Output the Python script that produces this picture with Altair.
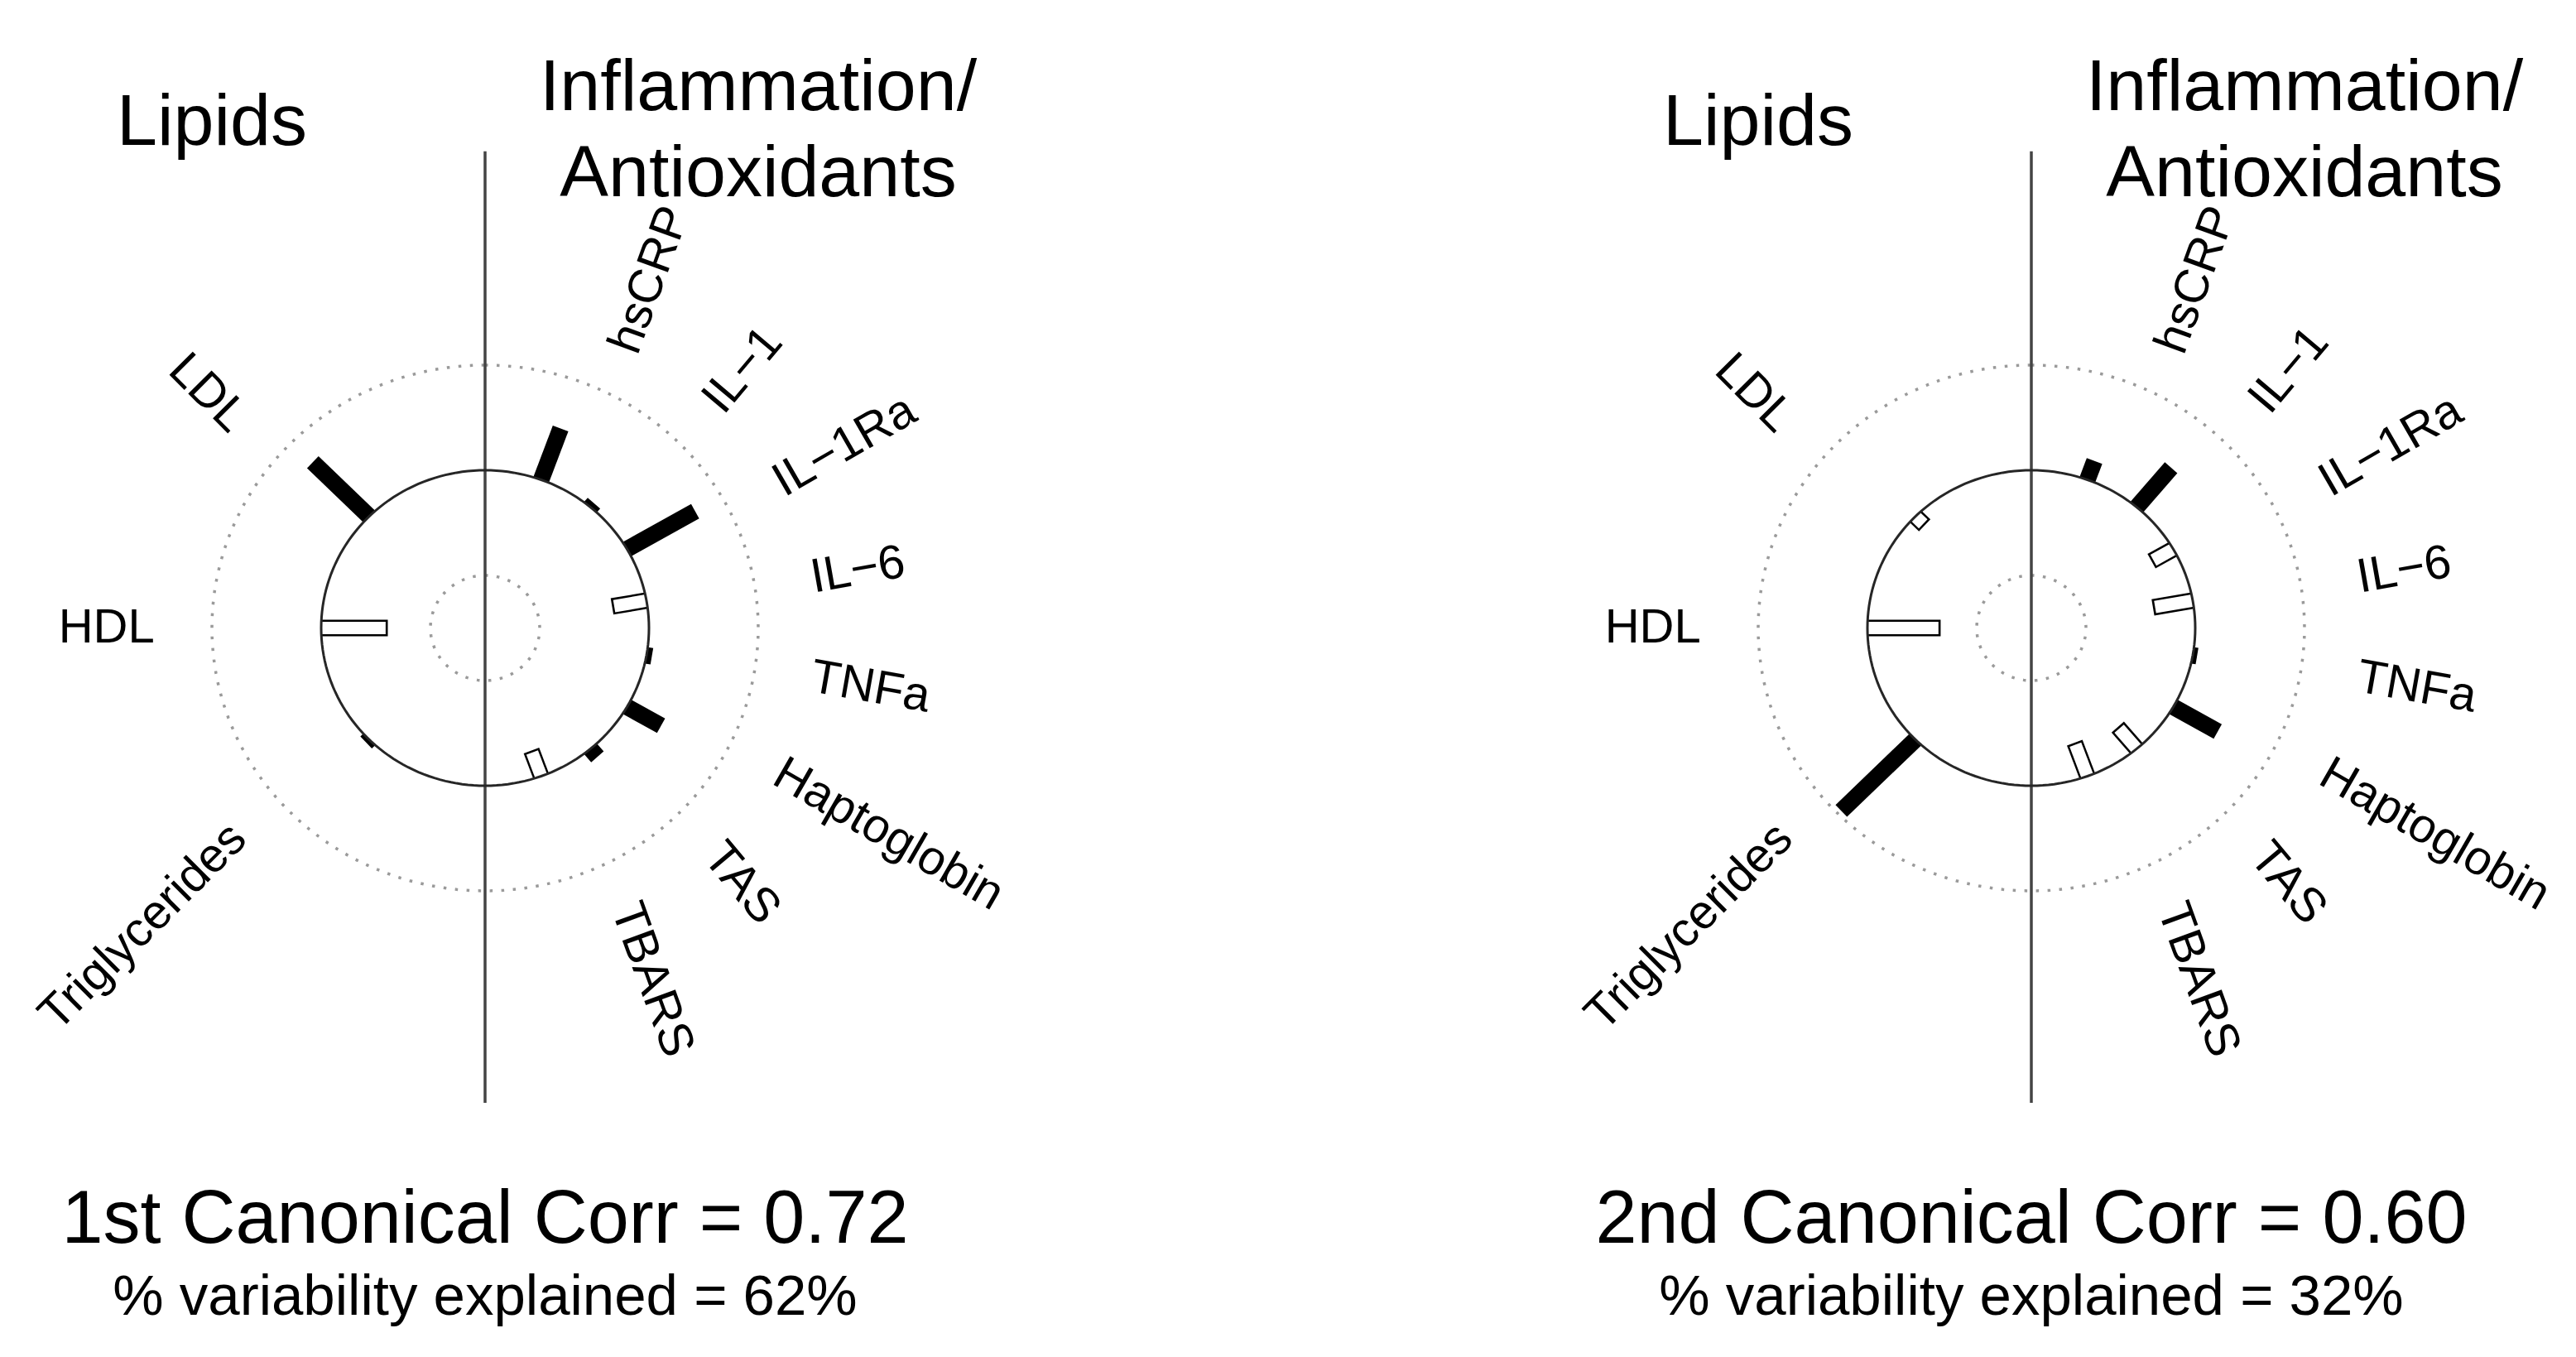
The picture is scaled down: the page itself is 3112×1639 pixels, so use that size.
import altair as alt
import pandas as pd

# ---------------- data ----------------
SET1 = ["LDL", "HDL", "Triglycerides"]
SET2 = ["hsCRP", "IL\u22121", "IL\u22121Ra", "IL\u22126", "TNFa", "Haptoglobin", "TAS", "TBARS"]

CV1_SET1 = [0.73, -0.61, 0.04]
CV1_SET2 = [0.52, 0.05, 0.72, -0.32, 0.05, 0.36, 0.10, -0.26]
CV2_SET1 = [-0.12, -0.67, 0.96]
CV2_SET2 = [0.19, 0.49, -0.23, -0.37, 0.04, 0.47, -0.27, -0.34]

GROUP_TITLES = ["Lipids", "Inflammation/", "Antioxidants"]
CORR_TITLES = ["1st Canonical Corr = 0.72", "2nd Canonical Corr = 0.60"]
VAR_TITLES = ["% variability explained = 62%", "% variability explained = 32%"]

# ---------------- style / layout ----------------
FONT = "Liberation Sans"
W, H = 1548, 1620
RX, RY = 330.0, 317.5          # pixels per unit
CY_OFF = 750.5                 # centre offset from top of panel
CX_OFF = [578.0, 898.0]        # centre offset from left of each panel
R0, SPAN = 0.6, 0.4            # helio circle radius and unit length
LAB_RX, LAB_RY = 1.21, 1.16    # label ellipse
LAB_SQUEEZE = 0.93             # label angular spread
CIRCLE_STEPS = pd.DataFrame({"t": list(range(0, 361, 2))})


def panel_table(v1, v2):
    rows = []
    n1, n2 = len(SET1), len(SET2)
    for k, (name, v) in enumerate(zip(SET1, v1), start=1):
        rows.append(dict(var=name, value=v, theta=360 - 180 * k / (n1 + 1), side="left"))
    for k, (name, v) in enumerate(zip(SET2, v2), start=1):
        rows.append(dict(var=name, value=v, theta=180 * k / (n2 + 1), side="right"))
    return pd.DataFrame(rows)


def make_panel(idx, v1, v2):
    xdom = [-CX_OFF[idx] / RX, (W - CX_OFF[idx]) / RX]
    ydom = [-(H - CY_OFF) / RY, CY_OFF / RY]

    def X(f):
        return alt.X(f, type="quantitative", scale=alt.Scale(domain=xdom, nice=False, zero=False), axis=None)

    def Y(f):
        return alt.Y(f, type="quantitative", scale=alt.Scale(domain=ydom, nice=False, zero=False), axis=None)

    df = panel_table(v1, v2)
    base = alt.Chart(df).transform_calculate(
        rad="datum.theta*PI/180",
        mid="datum.side=='right' ? 90 : 270",
    ).transform_calculate(
        x0=f"{R0}*sin(datum.rad)",
        y0=f"{R0}*cos(datum.rad)",
        r1=f"{R0}+{SPAN}*datum.value",
        lrad=f"(datum.mid + (datum.theta-datum.mid)*{LAB_SQUEEZE})*PI/180",
    ).transform_calculate(
        x1="datum.r1*sin(datum.rad)",
        y1="datum.r1*cos(datum.rad)",
        r1w="datum.r1+0.008",
        xl=f"{LAB_RX}*sin(datum.lrad)",
        yl=f"{LAB_RY}*cos(datum.lrad)",
        rot="((datum.side=='right' ? datum.theta-90 : datum.theta-270)+360)%360",
    ).transform_calculate(
        x1w="datum.r1w*sin(datum.rad)",
        y1w="datum.r1w*cos(datum.rad)",
    )

    def circle(r, dotted):
        c = alt.Chart(CIRCLE_STEPS).transform_calculate(
            cx=f"{r}*sin(datum.t*PI/180)", cy=f"{r}*cos(datum.t*PI/180)"
        )
        if dotted:
            m = c.mark_line(color="#9a9a9a", strokeWidth=3.5, strokeDash=[3.5, 10.5])
        else:
            m = c.mark_line(color="#262626", strokeWidth=3)
        return m.encode(x=X("cx"), y=Y("cy"), order=alt.Order("t:Q"))

    outer = circle(1.0, True)
    inner = circle(0.2, True)
    main = circle(R0, False)

    vline = alt.Chart(pd.DataFrame({"k": [0]})).transform_calculate(
        vx="0", vy0="-1.806", vy1="1.813"
    ).mark_rule(color="#444444", strokeWidth=3.5).encode(
        x=X("vx"), y=Y("vy0"), y2="vy1:Q"
    )

    bars = base.mark_rule(color="black", strokeWidth=20, strokeCap="butt").encode(
        x=X("x0"), y=Y("y0"), x2="x1:Q", y2="y1:Q"
    )
    hollow = base.transform_filter("datum.value < 0").mark_rule(
        color="white", strokeWidth=15, strokeCap="butt"
    ).encode(x=X("x0"), y=Y("y0"), x2="x1w:Q", y2="y1w:Q")

    lab_r = base.transform_filter("datum.side=='right'").mark_text(
        align="left", baseline="middle", font=FONT, fontSize=58, color="black"
    ).encode(x=X("xl"), y=Y("yl"), text="var:N", angle=alt.Angle("rot:Q", scale=None))
    lab_l = base.transform_filter("datum.side=='left'").mark_text(
        align="right", baseline="middle", font=FONT, fontSize=58, color="black"
    ).encode(x=X("xl"), y=Y("yl"), text="var:N", angle=alt.Angle("rot:Q", scale=None))

    def txt(s, xp, yp, size):
        return alt.Chart(pd.DataFrame({"s": [s]})).transform_calculate(
            tx=f"{xp}", ty=f"{yp}"
        ).mark_text(
            align="center", baseline="alphabetic", font=FONT, fontSize=size, color="black"
        ).encode(x=X("tx"), y=Y("ty"), text="s:N")

    titles = [
        txt(GROUP_TITLES[0], -1.0, 1.838, 88),
        txt(GROUP_TITLES[1], 1.0, 1.970, 88),
        txt(GROUP_TITLES[2], 1.0, 1.643, 88),
        txt(CORR_TITLES[idx], 0.0, -2.338, 90),
        txt(VAR_TITLES[idx], 0.0, -2.612, 69),
    ]

    return alt.layer(outer, inner, vline, bars, hollow, main, lab_r, lab_l, *titles).properties(
        width=W, height=H
    )


p1 = make_panel(0, CV1_SET1, CV1_SET2)
p2 = make_panel(1, CV2_SET1, CV2_SET2)

chart = alt.hconcat(p1, p2, spacing=0).properties(padding=0).configure_view(stroke=None)

chart.save("out.html", embed_options={"renderer": "svg", "actions": False})
